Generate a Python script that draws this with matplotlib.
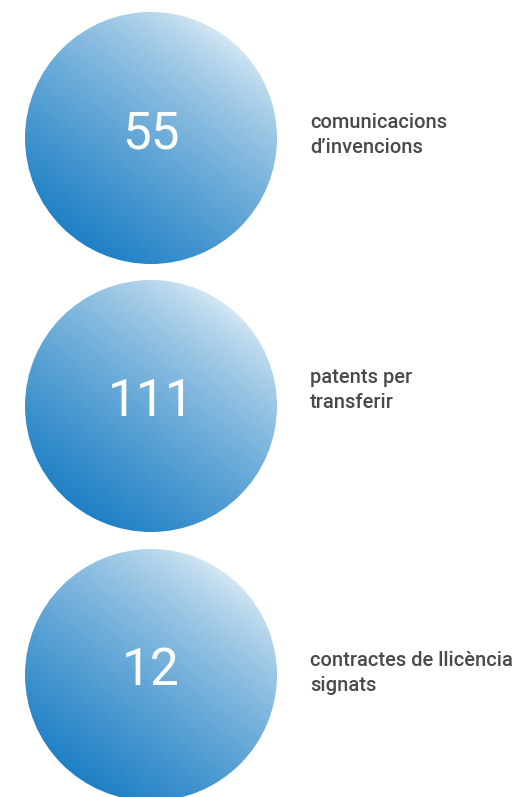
"""Three gradient circles with a key figure each and a label to the right."""

import numpy as np
import matplotlib
matplotlib.use('Agg')
import matplotlib.pyplot as plt
from matplotlib.patches import Circle
from matplotlib.colors import to_rgb

# data
values = ['55', '111', '12']
labels = ['comunicacions\nd\u2019invencions',
          'patents per\ntransferir',
          'contractes de llicència\nsignats']

# layout (pixels, y down)
W, H = 522, 797
cx = 151
cy = [138, 406, 675]
radius = 126
label_x = 310
label_dy = [-25, -38, -24]   # top of the label block, relative to circle centre

light = np.array(to_rgb('#d6e8f4'))
dark = np.array(to_rgb('#1f80c5'))

fig = plt.figure(figsize=(W / 100, H / 100), dpi=100)
ax = fig.add_axes([0, 0, 1, 1])
ax.set_xlim(0, W)
ax.set_ylim(H, 0)
ax.set_aspect('equal')
ax.axis('off')

# gradient image, light at top right, dark at bottom left
n = 300
g = np.linspace(-1, 1, n)
gx, gy = np.meshgrid(g, g)          # gy grows downward
d = np.array([-0.7, 1.0])
d = d / np.linalg.norm(d)
t = (gx * d[0] + gy * d[1] + 1) / 2
t = np.clip(t, 0, 1) ** 0.75
img = light[None, None, :] * (1 - t[..., None]) + dark[None, None, :] * t[..., None]

for i in range(len(values)):
    circ = Circle((cx, cy[i]), radius, transform=ax.transData, facecolor='none', edgecolor='none')
    ax.add_patch(circ)
    im = ax.imshow(img, extent=(cx - radius, cx + radius, cy[i] + radius, cy[i] - radius),
                   interpolation='bilinear', zorder=1)
    im.set_clip_path(circ)
    ax.text(cx, cy[i] - 4, values[i], color='white', fontsize=37, family='Roboto',
            fontweight='normal', ha='center', va='center', zorder=3)
    ax.text(label_x, cy[i] + label_dy[i], labels[i], color='#4a4a4a', fontsize=14.5,
            family='Roboto', fontweight='medium', ha='left', va='top',
            linespacing=1.4, zorder=3)

ax.set_xlim(0, W)
ax.set_ylim(H, 0)
plt.savefig('out.png', dpi=100, facecolor='white')
